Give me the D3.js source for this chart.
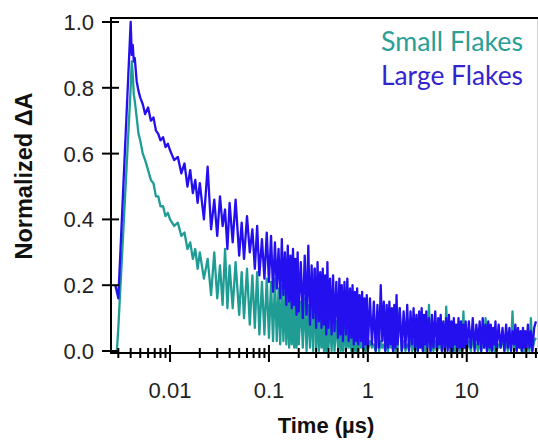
<!DOCTYPE html>
<html><head><meta charset="utf-8">
<script src="https://cdn.jsdelivr.net/npm/d3@7/dist/d3.min.js"></script>
<style>body{margin:0;background:#fff}svg{display:block}</style>
</head><body><svg id="c" width="538" height="440"></svg>
<script>
// time in microseconds
const time = [0.0028,0.0029,0.0030,0.0040,0.0041,0.0042,0.0043,0.0044,0.0046,0.0048,0.0050,0.0053,0.0056,0.0060,0.0064,0.0068,0.0072,0.0076,0.0080,0.0085,0.0090,0.0095,
0.010,0.011,0.012,0.013,0.014,0.015,0.016,0.017,0.018,0.019,0.020,0.022,0.024,0.026,0.028,0.030,0.032,0.034,0.036,0.038,0.040,0.043,0.046,0.050,0.053,0.056,0.060,0.064,0.068,0.072,0.076,0.080,0.085,0.090,0.095,
0.100,0.105,0.110,0.115,0.120,0.125,0.130,0.135,0.140,0.145,0.150,0.155,0.160,0.165,0.170,0.175,0.180,0.185,0.190,0.195,0.200,0.210,0.220,0.230,0.240,0.250,0.260,0.270,0.280,0.290,0.300,0.310,0.320,0.330,0.340,0.350,0.360,0.370,0.380,0.390,0.400,0.415,0.430,0.445,0.460,0.480,0.500,0.515,0.530,0.545,0.560,0.580,0.600,0.620,0.640,0.660,0.680,0.700,0.720,0.740,0.760,0.780,0.800,0.825,0.850,0.875,0.900,0.925,0.950,0.975,
1.00,1.05,1.10,1.15,1.20,1.25,1.30,1.35,1.40,1.45,1.50,1.55,1.60,1.65,1.70,1.75,1.80,1.85,1.90,1.95,2.00,2.10,2.20,2.30,2.40,2.50,2.60,2.70,2.80,2.90,3.00,3.10,3.20,3.30,3.40,3.50,3.60,3.70,3.80,3.90,4.00,4.15,4.30,4.45,4.60,4.80,5.00,5.15,5.30,5.45,5.60,5.80,6.00,6.20,6.40,6.60,6.80,7.00,7.20,7.40,7.60,7.80,8.00,8.25,8.50,8.75,9.00,9.25,9.50,9.75,
10,10.5,11,11.5,12,12.5,13,13.5,14,14.5,15,15.5,16,16.5,17,17.5,18,18.5,19,19.5,20,21,22,23,24,25,26,27,28,29,30,31,32,33,34,35,36,37,38,39,40,41.5,43,44.5,46,48,50];

const small = [null,0.00,0.07,0.80,0.88,0.84,0.78,0.76,0.71,0.66,0.64,0.60,0.58,0.55,0.52,0.51,0.47,0.47,0.44,0.44,0.41,0.42,
0.40,0.38,0.39,0.35,0.36,0.31,0.33,0.28,0.31,0.25,0.30,0.22,0.28,0.17,0.30,0.16,0.26,0.14,0.31,0.13,0.26,0.13,0.27,0.11,0.24,0.10,0.25,0.08,0.23,0.07,0.24,0.05,0.21,0.05,0.22,
0.04,0.21,0.03,0.22,0.03,0.19,0.02,0.20,0.03,0.18,0.02,0.19,0.01,0.17,0.02,0.18,0.01,0.16,0.01,0.17,0.02,0.15,0.01,0.16,0.00,0.14,0.01,0.15,0.00,0.25,0.01,0.14,0.00,0.12,0.01,0.12,0.00,0.12,0.00,0.11,0.01,0.10,0.00,0.11,0.00,0.09,0.01,0.10,0.00,0.08,0.00,0.09,0.00,0.07,0.01,0.08,0.00,0.06,0.00,0.07,0.00,0.05,0.00,0.06,0.01,0.05,0.00,0.04,0.00,0.04,
0.00,0.03,0.01,0.02,0.00,0.04,0.00,0.03,0.01,0.02,0.00,0.03,0.00,0.04,0.01,0.02,0.00,0.03,0.00,0.02,0.01,0.13,0.00,0.03,0.00,0.02,0.01,0.04,0.00,0.03,0.00,0.02,0.00,0.03,0.01,0.04,0.00,0.02,0.00,0.03,0.01,0.14,0.00,0.02,0.00,0.03,0.00,0.02,0.01,0.04,0.00,0.03,0.00,0.135,0.01,0.02,0.00,0.03,0.00,0.04,0.00,0.02,0.01,0.03,0.00,0.04,0.00,0.12,0.01,0.03,
0.00,0.03,0.00,0.04,0.01,0.02,0.00,0.03,0.00,0.04,0.01,0.10,0.00,0.03,0.00,0.02,0.01,0.04,0.00,0.03,0.00,0.02,0.01,0.04,0.00,0.03,0.00,0.02,0.01,0.12,0.00,0.03,0.00,0.04,0.01,0.02,0.00,0.03,0.00,0.04,0.01,0.03,0.00,0.10,0.00,0.03,0.04];

const large = [0.20,0.18,0.16,1.00,0.90,0.93,0.88,0.89,0.82,0.79,0.77,0.75,0.72,0.74,0.70,0.71,0.67,0.66,0.64,0.65,0.62,0.63,
0.61,0.58,0.59,0.54,0.57,0.50,0.55,0.48,0.52,0.45,0.51,0.40,0.56,0.37,0.46,0.35,0.47,0.38,0.43,0.31,0.45,0.33,0.46,0.29,0.39,0.28,0.41,0.30,0.37,0.25,0.38,0.23,0.34,0.22,0.36,
0.21,0.35,0.18,0.33,0.19,0.31,0.16,0.34,0.17,0.30,0.14,0.32,0.15,0.29,0.13,0.31,0.14,0.28,0.11,0.30,0.12,0.27,0.10,0.29,0.11,0.32,0.08,0.26,0.10,0.25,0.07,0.27,0.09,0.24,0.07,0.25,0.08,0.23,0.05,0.27,0.07,0.22,0.05,0.23,0.06,0.21,0.04,0.22,0.05,0.20,0.03,0.21,0.05,0.22,0.03,0.19,0.04,0.20,0.02,0.18,0.03,0.19,0.02,0.17,0.03,0.18,0.01,0.16,0.02,0.17,
0.01,0.16,0.02,0.15,0.00,0.14,0.01,0.20,0.03,0.15,0.00,0.14,0.01,0.15,0.02,0.13,0.00,0.14,0.01,0.17,0.02,0.13,0.00,0.12,0.01,0.14,0.00,0.12,0.02,0.13,0.01,0.11,0.00,0.12,0.01,0.13,0.00,0.11,0.02,0.12,0.01,0.10,0.00,0.11,0.01,0.12,0.00,0.10,0.02,0.11,0.00,0.09,0.01,0.10,0.00,0.11,0.01,0.09,0.00,0.10,0.02,0.08,0.00,0.10,0.01,0.09,0.00,0.08,0.01,0.09,
0.00,0.09,0.01,0.10,0.00,0.08,0.02,0.09,0.00,0.10,0.01,0.08,0.00,0.09,0.01,0.08,0.00,0.07,0.02,0.09,0.00,0.08,0.01,0.07,0.00,0.08,0.01,0.07,0.00,0.06,0.02,0.08,0.00,0.07,0.01,0.06,0.00,0.07,0.01,0.06,0.00,0.08,0.01,0.06,0.00,0.07,0.09];

const seriesNames = ["Small Flakes", "Large Flakes"];
const seriesColors = ["#1f9d94", "#2410ee"];
const legendColors = ["#2a9f96", "#3324d0"];
const xTickValues = [0.01, 0.1, 1, 10];
const xTickLabels = ["0.01", "0.1", "1", "10"];
const yTickValues = [0, 0.2, 0.4, 0.6, 0.8, 1.0];
const yTickLabels = ["0.0", "0.2", "0.4", "0.6", "0.8", "1.0"];
const xTitle = "Time (µs)";
const yTitle = "Normalized ΔA";

const svg = d3.select("#c");
const L = 111, R = 538, T = 18, B = 353;
const x = d3.scaleLog().domain([0.00253, 52.5]).range([L, R]);
const y = d3.scaleLinear().domain([0, 1]).range([351, 22]);

svg.append("defs").append("clipPath").attr("id", "clip")
  .append("rect").attr("x", L).attr("y", T).attr("width", R - L).attr("height", B - T);

// right light frame
svg.append("line").attr("x1", 537.5).attr("x2", 537.5).attr("y1", T).attr("y2", B)
  .attr("stroke", "#d4d4d4").attr("stroke-width", 1);

const g = svg.append("g").attr("clip-path", "url(#clip)");
const series = [small, large];
series.forEach((vals, i) => {
  const pts = time.map((t, k) => [t, vals[k]]);
  const line = d3.line().defined(d => d[1] !== null).x(d => x(d[0])).y(d => y(d[1]));
  g.append("path").datum(pts).attr("d", line).attr("fill", "none")
    .attr("stroke", seriesColors[i]).attr("stroke-width", 2.3).attr("stroke-linejoin", "round");
});

// frame lines
svg.append("line").attr("x1", L).attr("x2", R).attr("y1", T).attr("y2", T).attr("stroke", "#000").attr("stroke-width", 2);
svg.append("line").attr("x1", L).attr("x2", L).attr("y1", T - 1).attr("y2", B + 1).attr("stroke", "#000").attr("stroke-width", 2);
svg.append("line").attr("x1", L).attr("x2", R).attr("y1", B).attr("y2", B).attr("stroke", "#000").attr("stroke-width", 2);

// y ticks
yTickValues.forEach((v, i) => {
  svg.append("line").attr("x1", L - 9).attr("x2", L + 8).attr("y1", y(v)).attr("y2", y(v))
    .attr("stroke", "#000").attr("stroke-width", 2);
  svg.append("text").attr("x", L - 17).attr("y", y(v)).attr("dy", "0.36em")
    .attr("text-anchor", "end").attr("font-family", "Liberation Sans, Arial, sans-serif")
    .attr("font-size", 22).attr("fill", "#222").text(yTickLabels[i]);
});

// x ticks
const minor = x.ticks().filter(t => !xTickValues.some(m => Math.abs(m - t) / m < 1e-6));
minor.forEach(t => {
  svg.append("line").attr("x1", x(t)).attr("x2", x(t)).attr("y1", B - 5).attr("y2", B + 5)
    .attr("stroke", "#000").attr("stroke-width", 2);
});
xTickValues.forEach((v, i) => {
  svg.append("line").attr("x1", x(v)).attr("x2", x(v)).attr("y1", B - 8).attr("y2", B + 9)
    .attr("stroke", "#000").attr("stroke-width", 2);
  svg.append("text").attr("x", x(v)).attr("y", 398).attr("text-anchor", "middle")
    .attr("font-family", "Liberation Sans, Arial, sans-serif").attr("font-size", 22)
    .attr("fill", "#222").text(xTickLabels[i]);
});

// titles
svg.append("text").attr("x", 326).attr("y", 433).attr("text-anchor", "middle")
  .attr("font-family", "Liberation Sans, Arial, sans-serif").attr("font-weight", "bold")
  .attr("font-size", 22).attr("fill", "#111").text(xTitle);
svg.append("text").attr("transform", "translate(32,176) rotate(-90)").attr("text-anchor", "middle")
  .attr("font-family", "Liberation Sans, Arial, sans-serif").attr("font-weight", "bold")
  .attr("font-size", 23.5).attr("fill", "#111").text(yTitle);

// legend
seriesNames.forEach((n, i) => {
  svg.append("text").attr("x", 381).attr("y", 50.5 + i * 34.5)
    .attr("font-family", "Lato, 'Open Sans', sans-serif").attr("font-size", 27)
    .attr("textLength", 142).attr("lengthAdjust", "spacingAndGlyphs")
    .attr("fill", legendColors[i]).text(n);
});
</script></body></html>
